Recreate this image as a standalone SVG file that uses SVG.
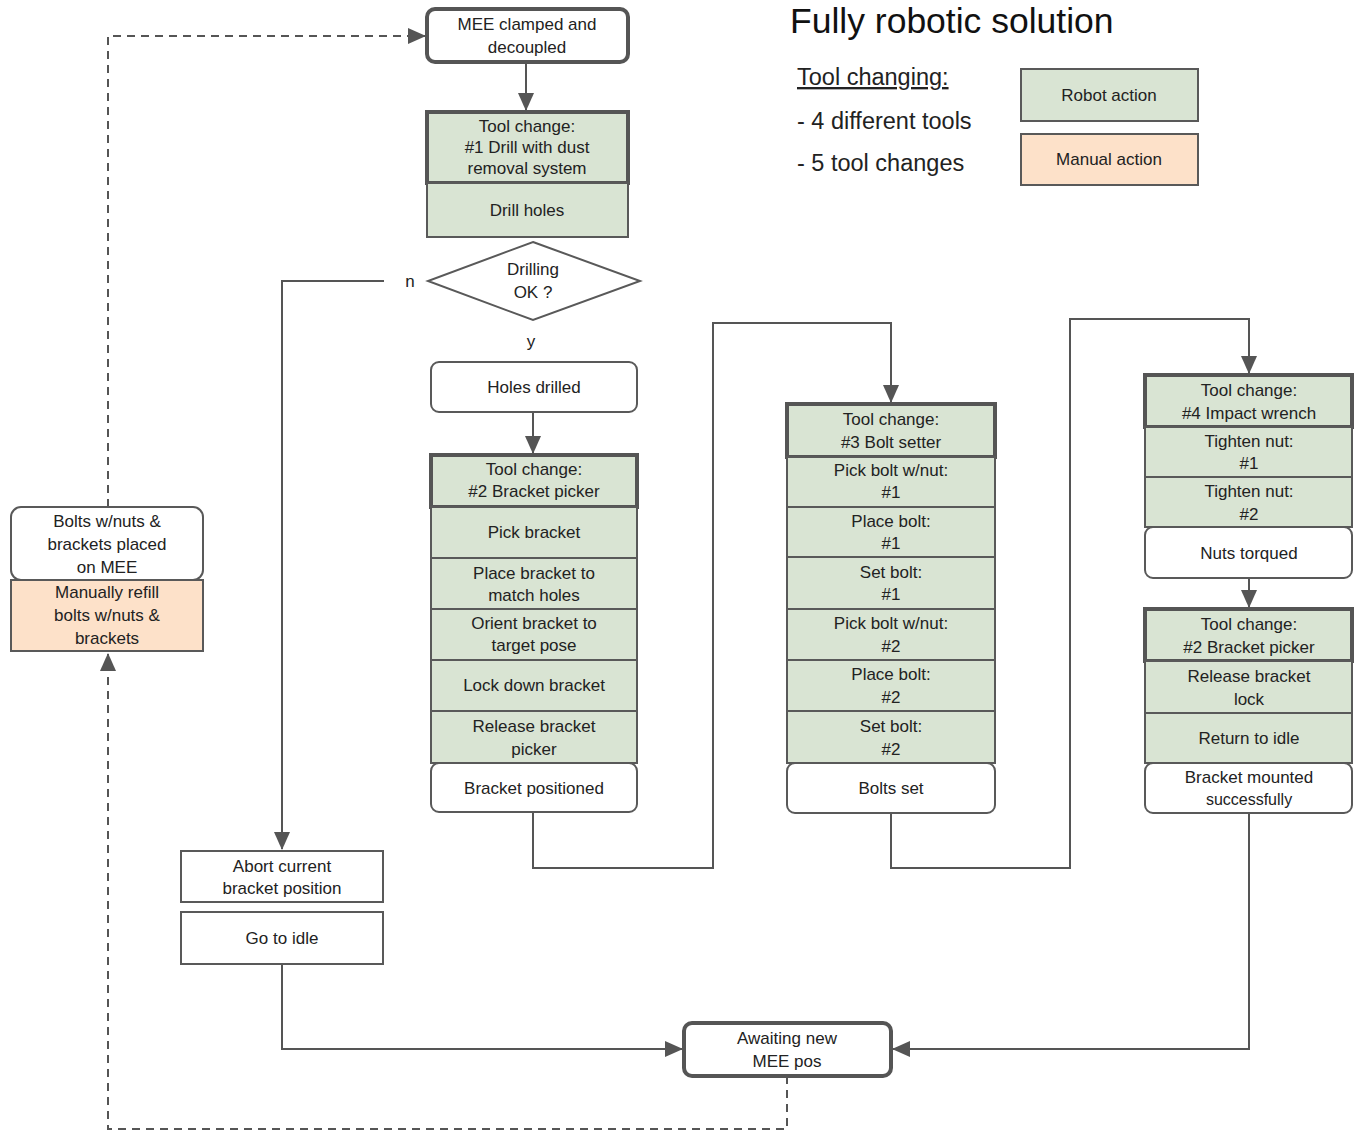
<svg xmlns="http://www.w3.org/2000/svg" width="1359" height="1131" viewBox="0 0 1359 1131">
<defs>
<marker id="ahb" markerWidth="18" markerHeight="16" refX="17" refY="8" orient="auto" markerUnits="userSpaceOnUse" viewBox="0 0 18 16">
<path d="M0,0 L18,8 L0,16 z" fill="#555"/>
</marker>
</defs>
<style>
text{font-family:"Liberation Sans",Arial,sans-serif;fill:#222;text-anchor:middle;font-size:17px}
.g{fill:#d9e4d3;stroke:#595959;stroke-width:2}
.gt{fill:#d9e4d3;stroke:#555;stroke-width:4}
.w{fill:#fff;stroke:#595959;stroke-width:2}
.wt{fill:#fff;stroke:#555;stroke-width:4}
.o{fill:#fde1c9;stroke:#595959;stroke-width:2}
.c{fill:none;stroke:#555;stroke-width:2}
.d{fill:none;stroke:#555;stroke-width:2;stroke-dasharray:8,6}
text.title{text-anchor:start;font-size:35.5px;fill:#111}
text.leg{text-anchor:start;font-size:23.5px;fill:#222}
text.u{text-decoration:underline}
text.sm{font-size:16px}
</style>
<rect width="1359" height="1131" fill="#fff"/>

<g id="connectors">
<path class="c" d="M526,62 V110" marker-end="url(#ahb)"/>
<path class="c" d="M384,281 H282 V849" marker-end="url(#ahb)"/>
<path class="c" d="M533,412 V453" marker-end="url(#ahb)"/>
<path class="c" d="M533,812 V868 H713 V323 H891 V402" marker-end="url(#ahb)"/>
<path class="c" d="M891,813 V868 H1070 V319 H1249 V373" marker-end="url(#ahb)"/>
<path class="c" d="M1249,578 V607" marker-end="url(#ahb)"/>
<path class="c" d="M1249,813 V1049 H893" marker-end="url(#ahb)"/>
<path class="c" d="M282,964 V1049 H682" marker-end="url(#ahb)"/>
<path class="d" d="M787,1076 V1129 H108 V654" marker-end="url(#ahb)"/>
<path class="d" d="M108,507 V36 H425" marker-end="url(#ahb)"/>
<text x="410" y="287">n</text>
<text x="531" y="347">y</text>
</g>

<g id="mee-clamped">
<rect class="wt" x="427" y="9" width="201" height="53" rx="8"/>
<text x="527" y="30">MEE clamped and</text>
<text x="527" y="53">decoupled</text>
</g>
<g id="tool1">
<rect class="gt" x="427" y="112" width="201" height="71"/>
<text x="527" y="132">Tool change:</text>
<text x="527" y="153">#1 Drill with dust</text>
<text x="527" y="174">removal system</text>
</g>
<g id="drill-holes">
<rect class="g" x="427" y="183" width="201" height="54"/>
<text x="527" y="216">Drill holes</text>
</g>
<g id="drilling-ok">
<polygon points="533,242 640,281 533,320 428,281" fill="#fff" stroke="#595959" stroke-width="2"/>
<text x="533" y="275">Drilling</text>
<text x="533" y="298">OK ?</text>
</g>
<g id="holes-drilled">
<rect class="w" x="431" y="362" width="206" height="50" rx="8"/>
<text x="534" y="393">Holes drilled</text>
</g>

<g id="tool2">
<rect class="gt" x="431" y="455" width="206" height="52"/>
<text x="534" y="475">Tool change:</text>
<text x="534" y="497">#2 Bracket picker</text>
</g>
<g id="pick-bracket">
<rect class="g" x="431" y="507" width="206" height="51"/>
<text x="534" y="538">Pick bracket</text>
</g>
<g id="place-bracket">
<rect class="g" x="431" y="558" width="206" height="51"/>
<text x="534" y="579">Place bracket to</text>
<text x="534" y="601">match holes</text>
</g>
<g id="orient-bracket">
<rect class="g" x="431" y="609" width="206" height="51"/>
<text x="534" y="629">Orient bracket to</text>
<text x="534" y="651">target pose</text>
</g>
<g id="lock-down">
<rect class="g" x="431" y="660" width="206" height="51"/>
<text x="534" y="691">Lock down bracket</text>
</g>
<g id="release-picker">
<rect class="g" x="431" y="711" width="206" height="52"/>
<text x="534" y="732">Release bracket</text>
<text x="534" y="755">picker</text>
</g>
<g id="bracket-positioned">
<rect class="w" x="431" y="763" width="206" height="49" rx="8"/>
<text x="534" y="794">Bracket positioned</text>
</g>

<g id="tool3">
<rect class="gt" x="787" y="404" width="208" height="53"/>
<text x="891" y="425">Tool change:</text>
<text x="891" y="448">#3 Bolt setter</text>
</g>
<g id="pick-bolt1">
<rect class="g" x="787" y="457" width="208" height="50"/>
<text x="891" y="476">Pick bolt w/nut:</text>
<text x="891" y="498">#1</text>
</g>
<g id="place-bolt1">
<rect class="g" x="787" y="507" width="208" height="50"/>
<text x="891" y="527">Place bolt:</text>
<text x="891" y="549">#1</text>
</g>
<g id="set-bolt1">
<rect class="g" x="787" y="557" width="208" height="52"/>
<text x="891" y="578">Set bolt:</text>
<text x="891" y="600">#1</text>
</g>
<g id="pick-bolt2">
<rect class="g" x="787" y="609" width="208" height="51"/>
<text x="891" y="629">Pick bolt w/nut:</text>
<text x="891" y="652">#2</text>
</g>
<g id="place-bolt2">
<rect class="g" x="787" y="660" width="208" height="51"/>
<text x="891" y="680">Place bolt:</text>
<text x="891" y="703">#2</text>
</g>
<g id="set-bolt2">
<rect class="g" x="787" y="711" width="208" height="52"/>
<text x="891" y="732">Set bolt:</text>
<text x="891" y="755">#2</text>
</g>
<g id="bolts-set">
<rect class="w" x="787" y="763" width="208" height="50" rx="8"/>
<text x="891" y="794">Bolts set</text>
</g>

<g id="tool4">
<rect class="gt" x="1145" y="375" width="207" height="52"/>
<text x="1249" y="396">Tool change:</text>
<text x="1249" y="419">#4 Impact wrench</text>
</g>
<g id="tighten1">
<rect class="g" x="1145" y="427" width="207" height="50"/>
<text x="1249" y="447">Tighten nut:</text>
<text x="1249" y="469">#1</text>
</g>
<g id="tighten2">
<rect class="g" x="1145" y="477" width="207" height="50"/>
<text x="1249" y="497">Tighten nut:</text>
<text x="1249" y="520">#2</text>
</g>
<g id="nuts-torqued">
<rect class="w" x="1145" y="527" width="207" height="51" rx="8"/>
<text x="1249" y="559">Nuts torqued</text>
</g>
<g id="tool2b">
<rect class="gt" x="1145" y="609" width="207" height="52"/>
<text x="1249" y="630">Tool change:</text>
<text x="1249" y="653">#2 Bracket picker</text>
</g>
<g id="release-lock">
<rect class="g" x="1145" y="661" width="207" height="52"/>
<text x="1249" y="682">Release bracket</text>
<text x="1249" y="705">lock</text>
</g>
<g id="return-idle">
<rect class="g" x="1145" y="713" width="207" height="50"/>
<text x="1249" y="744">Return to idle</text>
</g>
<g id="bracket-mounted">
<rect class="w" x="1145" y="763" width="207" height="50" rx="8"/>
<text x="1249" y="783">Bracket mounted</text>
<text class="sm" x="1249" y="805">successfully</text>
</g>

<g id="abort">
<rect class="w" x="181" y="851" width="202" height="51"/>
<text x="282" y="872">Abort current</text>
<text x="282" y="894">bracket position</text>
</g>
<g id="go-idle">
<rect class="w" x="181" y="912" width="202" height="52"/>
<text x="282" y="944">Go to idle</text>
</g>
<g id="awaiting">
<rect class="wt" x="684" y="1023" width="207" height="53" rx="8"/>
<text x="787" y="1044">Awaiting new</text>
<text x="787" y="1067">MEE pos</text>
</g>
<g id="bolts-placed">
<rect class="w" x="11" y="507" width="192" height="73" rx="10"/>
<text x="107" y="527">Bolts w/nuts &amp;</text>
<text x="107" y="550">brackets placed</text>
<text x="107" y="573">on MEE</text>
</g>
<g id="manual-refill">
<rect class="o" x="11" y="580" width="192" height="71"/>
<text x="107" y="598">Manually refill</text>
<text x="107" y="621">bolts w/nuts &amp;</text>
<text x="107" y="644">brackets</text>
</g>

<g id="legend">
<text class="title" x="790" y="33">Fully robotic solution</text>
<text class="leg u" x="797" y="85">Tool changing:</text>
<text class="leg" x="797" y="129">- 4 different tools</text>
<text class="leg" x="797" y="171">- 5 tool changes</text>
<rect class="g" x="1021" y="69" width="177" height="52"/>
<text x="1109" y="101">Robot action</text>
<rect class="o" x="1021" y="134" width="177" height="51"/>
<text x="1109" y="165">Manual action</text>
</g>
</svg>
